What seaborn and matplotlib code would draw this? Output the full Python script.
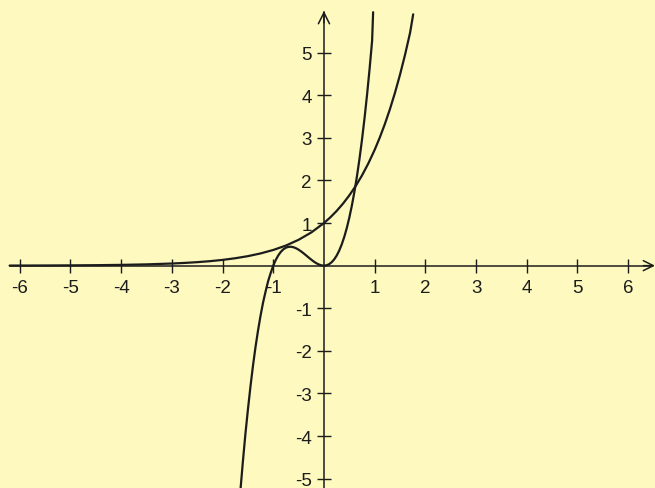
import matplotlib
matplotlib.use("Agg")
import matplotlib.pyplot as plt
import seaborn as sns
import pandas as pd

# Values
cubic_x = [-1.65, -1.6, -1.55, -1.5, -1.45, -1.4, -1.35, -1.3, -1.25, -1.2, -1.15, -1.1, -1.05,
           -1.0, -0.95, -0.9, -0.85, -0.8, -0.75, -0.7, -0.65, -0.6, -0.55, -0.5, -0.45, -0.4,
           -0.35, -0.3, -0.25, -0.2, -0.15, -0.1, -0.05, 0.0, 0.05, 0.1, 0.15, 0.2, 0.25, 0.3,
           0.35, 0.4, 0.45, 0.5, 0.55, 0.6, 0.65, 0.7, 0.75, 0.8, 0.85, 0.9, 0.95, 0.97]
cubic_y = [-5.31, -4.61, -3.96, -3.38, -2.84, -2.35, -1.91, -1.52, -1.17, -0.86, -0.60, -0.36, -0.17,
           0.0, 0.135, 0.243, 0.325, 0.384, 0.422, 0.441, 0.444, 0.432, 0.408, 0.375, 0.334, 0.288,
           0.239, 0.189, 0.141, 0.096, 0.057, 0.027, 0.007, 0.0, 0.008, 0.033, 0.078, 0.144, 0.234, 0.351,
           0.496, 0.672, 0.881, 1.125, 1.407, 1.728, 2.091, 2.499, 2.953, 3.456, 4.010, 4.617, 5.280, 5.95]

exp_x = [-6.2, -6.0, -5.5, -5.0, -4.5, -4.0, -3.5, -3.0, -2.75, -2.5, -2.25, -2.0, -1.75, -1.5,
         -1.25, -1.0, -0.75, -0.5, -0.25, 0.0, 0.125, 0.25, 0.375, 0.5, 0.625, 0.75, 0.875, 1.0,
         1.1, 1.2, 1.3, 1.4, 1.5, 1.6, 1.7, 1.76]
exp_y = [0.002, 0.0025, 0.004, 0.0067, 0.011, 0.018, 0.030, 0.050, 0.064, 0.082, 0.105, 0.135, 0.174, 0.223,
         0.287, 0.368, 0.472, 0.607, 0.779, 1.0, 1.133, 1.284, 1.455, 1.649, 1.868, 2.117, 2.399, 2.718,
         3.004, 3.320, 3.669, 4.055, 4.482, 4.953, 5.474, 5.90]

x_ticks = [-6, -5, -4, -3, -2, -1, 1, 2, 3, 4, 5, 6]
y_ticks = [-5, -4, -3, -2, -1, 1, 2, 3, 4, 5]

sns.set_style("white")
plt.rcParams['font.family'] = ['Liberation Sans', 'DejaVu Sans']

bg = '#FDF9BF'
ink = '#1c1c1c'

fig = plt.figure(figsize=(6.55, 4.89), dpi=100, facecolor=bg)
ax = fig.add_axes([0, 0, 1, 1])
ax.set_facecolor(bg)

df_c = pd.DataFrame({'x': cubic_x, 'y': cubic_y})
df_e = pd.DataFrame({'x': exp_x, 'y': exp_y})
sns.lineplot(data=df_c, x='x', y='y', ax=ax, color=ink, lw=1.6, sort=False, estimator=None)
sns.lineplot(data=df_e, x='x', y='y', ax=ax, color=ink, lw=1.6, sort=False, estimator=None)

ax.set_xlim(-6.39, 6.53)
ax.set_ylim(-5.22, 6.26)

for s in ['top', 'right']:
    ax.spines[s].set_visible(False)
for s in ['left', 'bottom']:
    ax.spines[s].set_position(('data', 0))
    ax.spines[s].set_color(ink)
    ax.spines[s].set_linewidth(1.1)
ax.spines['bottom'].set_bounds(-6.2, 6.45)
ax.spines['left'].set_bounds(-5.3, 5.95)

ax.set_xticks(x_ticks)
ax.set_xticklabels([str(v) for v in x_ticks])
ax.set_yticks(y_ticks)
ax.set_yticklabels([str(v) for v in y_ticks])
ax.tick_params(axis='x', bottom=True, top=False, direction='inout', length=9.5, width=1.0,
               colors=ink, labelsize=13.5, pad=5.0)
ax.tick_params(axis='y', left=True, right=False, direction='inout', length=10.5, width=1.0,
               colors=ink, labelsize=13.5, pad=3.5)
ax.set_xlabel('')
ax.set_ylabel('')

# arrow heads
ax.annotate('', xy=(6.53, 0), xytext=(6.3, 0),
            arrowprops=dict(arrowstyle='->', color=ink, lw=1.1, mutation_scale=18,
                            shrinkA=0, shrinkB=0))
ax.annotate('', xy=(0, 5.98), xytext=(0, 5.7),
            arrowprops=dict(arrowstyle='->', color=ink, lw=1.1, mutation_scale=20,
                            shrinkA=0, shrinkB=0))

fig.savefig('out.png', dpi=100, facecolor=bg)
